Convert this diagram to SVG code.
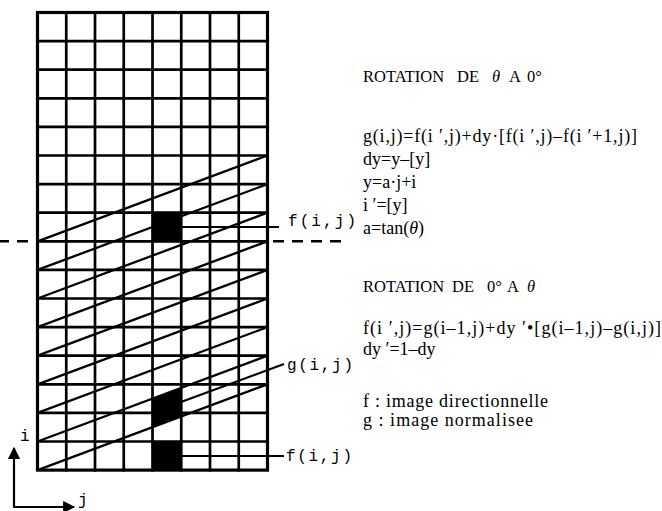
<svg xmlns="http://www.w3.org/2000/svg" width="662" height="511" viewBox="0 0 662 511">
<style>
.g{stroke:#000;stroke-width:2.7;fill:none;stroke-linecap:square}
.b{stroke:#000;stroke-width:3.2;fill:none}
.d{stroke:#000;stroke-width:2.3;fill:none}
.lead{stroke:#000;stroke-width:2.2;fill:none}
.dash{stroke:#000;stroke-width:2.6;fill:none;stroke-dasharray:11 8}
.ax{stroke:#000;stroke-width:2.2;fill:none}
.m{font-family:"Liberation Mono","Courier New",monospace;font-size:16px;fill:#000}
.t{font-family:"Liberation Serif","Times New Roman",serif;font-size:18px;fill:#000}
.h{font-family:"Liberation Serif","Times New Roman",serif;font-size:16.5px;fill:#000}
.it{font-style:italic}
</style>
<defs>
<marker id="ah" viewBox="0 0 10 10" refX="9" refY="5" markerWidth="6" markerHeight="5.5" orient="auto" markerUnits="strokeWidth">
<path d="M0,0 L10,5 L0,10 z" fill="#000"/>
</marker>
</defs>
<rect width="662" height="511" fill="#fff"/>
<g id="cells">
<rect x="152.5" y="212.7" width="28.75" height="28.6" fill="#000"/>
<rect x="152.5" y="441.5" width="28.75" height="28.6" fill="#000"/>
<polygon points="152.5,398.6 181.25,387.9 181.25,416.5 152.5,427.2" fill="#000"/>
</g>
<g id="grid">
<path class="g" d="M66.25,12.5V470.1M95,12.5V470.1M123.75,12.5V470.1M152.5,12.5V470.1M181.25,12.5V470.1M210,12.5V470.1M238.75,12.5V470.1"/>
<path class="g" d="M37.5,41.1H267.5M37.5,69.7H267.5M37.5,98.3H267.5M37.5,126.9H267.5M37.5,155.5H267.5M37.5,184.1H267.5M37.5,212.7H267.5M37.5,241.3H267.5M37.5,269.9H267.5M37.5,298.5H267.5M37.5,327.1H267.5M37.5,355.7H267.5M37.5,384.3H267.5M37.5,412.9H267.5M37.5,441.5H267.5"/>
<rect class="b" x="37.5" y="12.5" width="230" height="457.6"/>
</g>
<g id="diagonals">
<path class="d" d="M37.5,241.3L267.5,155.5M37.5,269.9L267.5,184.1M37.5,298.5L267.5,212.7M37.5,327.1L267.5,241.3M37.5,355.7L267.5,269.9M37.5,384.3L267.5,298.5M37.5,412.9L267.5,327.1M37.5,441.5L267.5,355.7M37.5,470.1L267.5,384.3"/>
</g>
<g id="connectors">
<line class="dash" x1="-2" y1="241.3" x2="37" y2="241.3"/>
<line class="dash" x1="273" y1="241.3" x2="345" y2="241.3"/>
<line class="lead" x1="181" y1="227" x2="279" y2="227"/>
<line class="lead" x1="181" y1="402" x2="284" y2="364"/>
<line class="lead" x1="181" y1="456" x2="284" y2="456"/>
<line class="ax" x1="14" y1="507" x2="14" y2="448" marker-end="url(#ah)"/>
<line class="ax" x1="13" y1="507" x2="74" y2="507" marker-end="url(#ah)"/>
</g>
<g id="label-f-top"><text class="m" x="288" y="226" textLength="68" lengthAdjust="spacing">f(i,j)</text></g>
<g id="label-g"><text class="m" x="287" y="370" textLength="66" lengthAdjust="spacing">g(i,j)</text></g>
<g id="label-f-bottom"><text class="m" x="286" y="461" textLength="66" lengthAdjust="spacing">f(i,j)</text></g>
<g id="axis-labels">
<text class="m" x="20" y="441">i</text>
<text class="m" x="78" y="505">j</text>
</g>
<g id="block1">
<text class="h" y="82"><tspan x="363">ROTATION</tspan><tspan x="457">DE</tspan><tspan x="492" class="it">θ</tspan><tspan x="509">A</tspan><tspan x="527">0°</tspan></text>
<text class="t" x="363" y="142" textLength="274" lengthAdjust="spacing">g(i,j)=f(i ′,j)+dy·[f(i ′,j)–f(i ′+1,j)]</text>
<text class="t" x="363" y="165">dy=y–[y]</text>
<text class="t" x="363" y="188">y=a·j+i</text>
<text class="t" x="363" y="211">i ′=[y]</text>
<text class="t" x="363" y="234">a=tan(<tspan class="it">θ</tspan>)</text>
</g>
<g id="block2">
<text class="h" y="292"><tspan x="363">ROTATION</tspan><tspan x="452">DE</tspan><tspan x="487">0°</tspan><tspan x="507">A</tspan><tspan x="527" class="it">θ</tspan></text>
<text class="t" x="363" y="334" textLength="298" lengthAdjust="spacing">f(i ′,j)=g(i–1,j)+dy ′•[g(i–1,j)–g(i,j)]</text>
<text class="t" x="363" y="355">dy ′=1–dy</text>
<text class="t" x="363" y="407" textLength="185" lengthAdjust="spacing">f : image directionnelle</text>
<text class="t" x="363" y="426" textLength="170" lengthAdjust="spacing">g : image normalisee</text>
</g>
</svg>
